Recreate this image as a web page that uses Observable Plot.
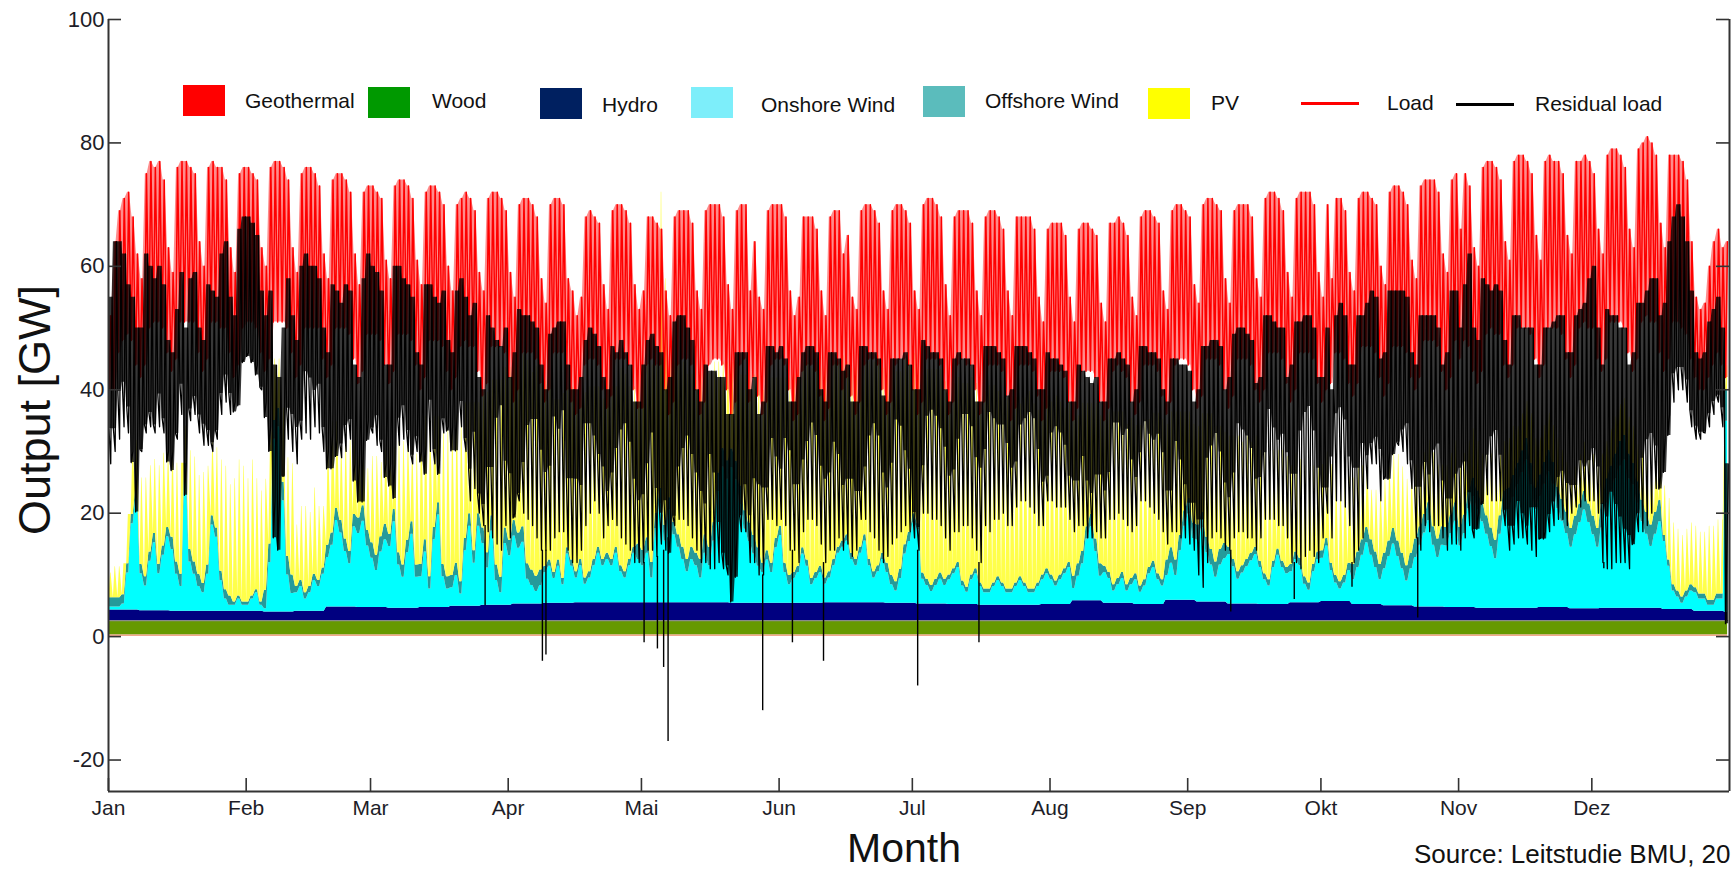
<!DOCTYPE html>
<html>
<head>
<meta charset="utf-8">
<script src="https://cdn.jsdelivr.net/npm/d3@7"></script>
<script src="https://cdn.jsdelivr.net/npm/@observablehq/plot@0.6"></script>
<style>
html, body { margin: 0; padding: 0; background: #fff; overflow: hidden; }
#wrap { position: relative; width: 1735px; height: 872px; font-family: "Liberation Sans", Arial, sans-serif; color: #111; }
#wrap svg { display: block; }
.abs { position: absolute; white-space: nowrap; line-height: 1; }
.sw { position: absolute; width: 42px; height: 31px; }
.ln { position: absolute; width: 58px; height: 3px; }
.lt { position: absolute; font-size: 21px; line-height: 1; white-space: nowrap; color: #111; }
</style>
</head>
<body>
<div id="wrap"></div>
<script>
// ---------- axes ----------
const monthLabels = ["Jan","Feb","Mar","Apr","Mai","Jun","Jul","Aug","Sep","Okt","Nov","Dez"];
const monthStart  = [0,31,59,90,120,151,181,212,243,273,304,334];
const yTicks = [-20,0,20,40,60,80,100];
const xDomain = [0, 365];
const yDomain = [-25.1, 100];

// ---------- series ----------
const sourceNames = ["Geothermal","Wood","Hydro","Onshore Wind","Offshore Wind","PV"];

// weekly values (GW), week 0 = Jan 1..7
const geothermal = [0.3,0.3,0.3,0.3,0.3,0.3,0.3,0.3,0.3,0.3,0.3,0.3,0.3,0.3,0.3,0.3,0.3,0.3,0.3,0.3,0.3,0.3,0.3,0.3,0.3,0.3,0.3,0.3,0.3,0.3,0.3,0.3,0.3,0.3,0.3,0.3,0.3,0.3,0.3,0.3,0.3,0.3,0.3,0.3,0.3,0.3,0.3,0.3,0.3,0.3,0.3,0.3,0.3];
const wood = [2.3,2.3,2.3,2.3,2.3,2.3,2.3,2.3,2.3,2.3,2.3,2.3,2.3,2.3,2.3,2.3,2.3,2.3,2.3,2.3,2.3,2.3,2.3,2.3,2.3,2.3,2.3,2.3,2.3,2.3,2.3,2.3,2.3,2.3,2.3,2.3,2.3,2.3,2.3,2.3,2.3,2.3,2.3,2.3,2.3,2.3,2.3,2.3,2.3,2.3,2.3,2.3,2.3];
const hydro = [1.7,1.6,1.5,1.5,1.5,1.4,1.5,2.2,2.1,2.0,2.1,2.3,2.5,2.7,2.8,2.9,2.9,2.9,2.9,2.9,2.8,2.8,2.8,2.9,2.9,2.8,2.7,2.6,2.5,2.5,2.6,3.2,2.8,2.6,3.3,3.0,2.7,2.6,2.9,3.1,2.6,2.4,2.2,2.1,2.0,2.0,2.1,1.9,2.0,2.0,1.8,1.5,1.3];
const offshore = [1.5,1.5,2,1.5,0.5,3,1,2,2.5,2,2,2,2.5,2.5,1,1,1,2.5,2,3,3,1.5,1,1,1,1.5,1,0.8,0.6,0.6,0.8,2,1,1,2.5,2.5,1.2,1,1.2,1.2,2.5,2.5,3,3,3,3.5,3.5,3,4,3.5,1,0.8,5];

// daily values (GW), one row per week, Sun..Sat
const onshore = [
0.5,0.5,0.5,1,6,14,18,
6,4,8,11,6,9,12,
10,6,4,22,8,6,4,
3,6,14,12,5,2,1,
1,2,1,1,2,3,1,
0.5,8,28,30,18,6,3,
3,4,2,3,5,4,6,
8,10,14,12,9,7,13,
12,14,10,8,6,9,11,
10,14,7,5,9,12,5,
5,9,3,11,15,5,3,
3,5,2,9,13,7,13,
10,6,12,4,2,10,8,
11,9,10,4,3,2,3,
5,6,4,6,3,8,6,
4,6,3,4,6,8,6,
7,6,8,5,4,6,8,
7,6,8,4,12,16,10,
15,11,9,7,5,7,6,
4,8,6,10,18,22,20,
22,20,16,12,10,8,6,
5,7,5,9,11,5,3,
4,5,8,6,3,4,5,
3,4,6,8,9,10,7,
6,8,10,6,4,5,7,
5,3,2,4,8,10,13,
12,4,3,2,3,4,3,
4,5,6,3,2,4,5,
3,2,2,3,4,3,2,
2,3,4,3,2,2,3,
4,5,4,3,4,5,6,
2,4,6,10,12,8,4,
5,4,2,3,4,2,3,
4,2,3,5,6,4,3,
4,6,4,8,12,14,10,
10,12,8,6,4,6,7,
8,6,4,5,6,7,8,
6,4,3,6,8,6,5,
5,7,6,3,2,5,7,
7,9,5,3,2,3,5,
4,6,8,10,8,6,4,
6,8,10,8,6,4,6,
8,10,12,14,10,8,10,
10,12,14,10,12,16,18,
16,14,12,10,8,12,16,
16,18,20,22,24,20,16,
18,20,22,20,16,14,12,
10,12,14,16,14,12,10,
13,17,19,21,23,24,21,
20,17,14,12,10,12,14,
11,7,3,2,1,2,3,
3,2,2,1,1,2,2,
31];

const pv = [
4,5,5,5,8,10,8,
14,16,14,12,16,15,12,
14,16,18,6,16,17,16,
18,16,12,13,18,20,18,
20,22,22,20,22,18,18,
18,16,10,8,12,16,18,
10,12,14,12,14,12,10,
16,18,14,12,16,18,12,
10,8,10,14,16,12,12,
14,10,18,20,16,12,18,
22,20,24,18,14,22,24,
24,24,26,22,18,24,18,
22,26,22,30,32,26,28,
26,28,28,33,32,34,30,
30,30,28,26,30,26,28,
28,26,30,30,28,26,26,
30,28,26,32,32,28,26,
28,30,28,32,24,48,40,
24,26,28,30,30,28,28,
30,28,28,26,18,14,16,
14,16,18,22,24,26,28,
28,30,30,26,24,30,32,
32,32,30,32,34,34,32,
34,34,32,30,30,28,30,
32,30,28,32,34,34,30,
32,34,34,32,30,28,26,
26,32,34,35,34,33,32,
30,30,30,32,33,32,30,
30,32,33,32,30,30,31,
30,30,28,30,32,30,28,
28,28,28,30,28,26,26,
26,24,24,20,18,22,24,
24,26,28,27,26,26,26,
24,26,26,24,24,26,26,
22,22,24,20,16,14,16,
16,16,20,22,22,20,18,
18,20,22,20,20,18,18,
18,20,20,18,16,18,18,
16,16,16,18,18,16,14,
14,14,16,16,16,16,14,
14,14,12,10,8,10,12,
12,12,12,14,14,14,12,
12,10,10,10,12,12,10,
10,10,10,10,10,8,8,
8,8,10,12,12,10,8,
8,8,6,6,6,8,8,
6,6,6,6,8,8,8,
8,8,8,8,8,10,10,
8,6,6,6,6,6,6,
6,6,8,8,8,8,8,
8,10,10,10,10,10,10,
10,10,10,12,12,12,12,
4];

// load: daily peak and night trough (GW)
const loadHi = [
52,64,69,71,72,68,62,
58,75,77,76,77,74,63,
59,76,77,77,76,75,64,
60,76,77,76,76,74,63,
59,75,76,76,75,74,63,
60,76,77,77,76,74,63,
59,75,76,76,75,73,62,
58,74,75,75,74,72,62,
57,72,73,73,72,71,61,
58,73,74,74,73,71,61,
57,72,73,73,72,70,60,
56,70,71,72,71,69,59,
56,71,72,72,71,69,59,
55,70,71,71,70,68,58,
54,70,71,71,70,58,56,
52,55,68,69,68,67,57,
53,69,70,70,69,67,57,
53,56,68,68,67,66,56,
52,68,69,69,69,67,56,
53,69,70,70,70,68,57,
53,69,70,70,56,64,55,
53,69,70,70,70,68,56,
52,55,68,68,68,66,56,
52,68,69,69,62,65,55,
53,69,70,70,69,67,56,
53,69,70,70,69,67,56,
53,70,71,71,70,68,57,
52,68,69,69,69,67,56,
52,68,69,69,68,66,56,
52,68,68,68,68,66,55,
51,66,67,67,67,65,55,
51,66,67,67,66,65,54,
51,67,67,68,67,65,55,
52,68,69,69,68,67,56,
53,69,70,70,69,68,57,
54,70,71,71,70,69,58,
54,69,70,70,70,68,58,
55,71,72,72,71,69,59,
55,71,72,72,72,70,59,
55,70,58,71,71,69,59,
56,71,72,72,71,70,60,
57,72,73,73,72,70,61,
58,73,74,74,74,72,62,
59,74,75,66,75,73,63,
60,76,77,77,76,74,64,
61,77,78,78,77,75,65,
61,77,78,77,77,75,65,
62,77,77,78,77,75,66,
62,78,79,79,78,76,66,
63,79,80,81,80,78,67,
63,78,78,78,77,74,64,
55,53,54,60,64,66,63,
64];

const loadLo = [
40,40,46,48,49,48,44,
42,44,50,51,51,50,46,
43,45,51,51,51,51,46,
43,45,51,51,50,50,46,
42,44,50,51,51,50,46,
43,45,51,51,51,50,46,
42,44,50,50,50,50,45,
42,44,50,50,50,49,45,
41,43,49,49,49,48,44,
41,43,49,49,49,48,44,
40,42,48,48,48,47,43,
40,42,47,48,47,47,43,
39,41,47,47,47,46,42,
38,40,46,46,46,45,41,
38,40,46,46,46,40,38,
36,37,44,45,45,44,40,
37,39,45,45,45,44,40,
37,37,44,45,44,44,40,
36,38,44,45,45,44,40,
36,38,44,45,45,44,40,
36,38,44,45,38,42,39,
36,38,44,45,45,44,40,
35,36,43,44,44,43,39,
35,37,44,44,40,42,39,
36,38,44,45,45,44,40,
36,38,44,45,45,44,40,
36,38,45,45,45,44,40,
36,38,44,45,44,44,40,
36,38,44,44,44,43,39,
35,37,44,44,44,43,39,
35,37,43,43,43,42,38,
35,37,43,43,43,42,38,
35,37,43,44,43,42,38,
36,38,44,44,44,43,39,
36,38,44,45,45,44,40,
37,39,45,45,45,44,40,
37,39,45,45,45,44,40,
38,40,46,46,46,45,41,
38,40,46,46,46,45,41,
38,40,41,46,46,45,41,
39,41,47,47,47,46,42,
39,41,47,47,47,46,42,
40,42,48,48,48,47,43,
40,42,48,45,48,47,43,
41,43,49,50,49,49,44,
42,44,50,50,50,49,45,
42,44,50,50,50,49,45,
42,44,50,51,50,50,45,
43,45,51,51,51,50,46,
43,45,51,52,51,51,46,
43,45,51,51,50,49,45,
42,40,40,42,44,46,44,
42];

// residual load: daily high (evening) and daily low (GW)
const resHi = [
55,64,64,62,57,55,50,
50,62,60,58,60,57,48,
46,53,59,50,58,59,50,
48,57,56,55,62,64,55,
52,66,68,68,67,65,56,
52,56,44,42,50,58,52,
48,60,62,60,60,58,50,
46,57,56,54,57,56,44,
42,58,62,60,59,56,44,
44,60,60,58,57,55,46,
44,57,57,55,54,56,48,
46,56,58,55,52,54,42,
40,52,50,48,47,50,42,
46,53,52,52,51,50,44,
40,49,50,51,51,44,40,
40,42,48,50,49,47,42,
40,47,46,48,46,44,38,
38,44,48,49,47,46,40,
42,51,52,52,50,48,40,
38,44,43,43,42,42,36,
36,46,46,46,40,42,36,
38,47,47,46,47,45,38,
38,42,46,47,47,46,40,
38,46,46,45,43,44,38,
38,47,47,46,46,45,39,
38,45,45,45,46,44,40,
40,48,47,46,46,45,40,
38,45,46,45,45,44,38,
38,47,47,47,46,45,39,
40,47,47,47,46,45,40,
40,46,45,45,44,43,38,
38,44,43,42,41,42,38,
38,45,45,46,45,44,38,
40,47,47,46,46,45,40,
38,45,45,44,44,43,38,
40,47,47,48,48,47,40,
42,49,50,50,49,48,41,
42,52,52,51,50,50,42,
44,51,51,52,52,50,42,
42,50,40,52,54,52,44,
44,52,52,54,56,55,45,
46,56,56,56,56,55,46,
44,52,52,52,52,50,44,
46,56,56,50,57,62,50,
48,58,57,56,57,56,48,
44,52,52,50,50,50,44,
44,50,50,51,52,52,46,
46,52,53,54,58,60,50,
44,53,52,52,50,50,44,
46,54,54,56,58,58,52,
54,64,68,70,68,64,56,
46,45,46,51,53,55,50,
28];

const resLo = [
28,30,32,34,33,30,28,
30,33,34,33,34,33,30,
30,32,36,28,35,36,33,
31,31,30,32,36,38,36,
38,44,45,46,45,44,40,
38,34,22,22,26,32,30,
28,32,33,32,34,33,30,
30,33,32,29,30,32,28,
28,33,35,33,31,30,28,
28,28,31,32,30,28,30,
30,31,30,28,28,33,34,
34,36,34,30,22,24,20,
18,17,16,15,14,18,16,
20,22,20,19,18,16,14,
14,14,16,17,17,14,12,
12,14,18,20,22,20,16,
18,19,18,16,15,14,12,
12,12,14,14,13,15,14,
16,18,19,19,18,16,14,
12,12,11,11,12,11,10,
14,16,17,17,12,12,10,
10,19,19,18,19,18,14,
14,12,17,19,19,18,15,
12,14,14,16,14,15,13,
14,19,19,17,16,14,12,
13,15,16,17,18,17,16,
14,20,20,19,19,18,16,
14,17,17,18,18,16,14,
12,18,17,19,19,20,18,
18,21,22,22,21,20,18,
18,22,22,21,21,21,19,
17,18,18,16,16,17,16,
16,19,19,20,19,18,17,
18,22,22,21,20,19,17,
15,17,17,16,16,15,14,
10,8,12,16,17,16,14,
14,16,17,17,16,16,14,
16,19,19,19,18,18,16,
12,12,11,13,14,13,12,
16,20,16,22,22,21,18,
12,14,16,24,28,28,22,
26,30,31,31,30,28,24,
16,14,18,17,18,18,16,
14,15,15,14,16,18,16,
20,22,23,22,22,22,18,
14,15,16,16,15,14,13,
16,17,17,18,19,19,18,
20,21,21,22,22,22,20,
12,11,11,12,12,12,11,
16,17,17,18,20,24,26,
32,36,38,40,40,38,34,
32,32,33,34,36,38,34,
18];

// single-hour dips of the residual load (day of year, GW)
const dipDay   = [84.8, 97.7, 98.5, 120.6, 123.6, 125.0, 126.0, 147.3, 154.0, 161.0, 182.2, 196.0, 252.7, 267.0, 280.0, 294.8, 336.7];
const dipValue = [5, -4, -3, -1, -2, -5, -17, -12, -1, -4, -8, -1, 4, 6, 8, 3, 11];

// ---------- checks ----------
for (const [name, arr] of Object.entries({onshore, pv, loadHi, loadLo, resHi, resLo})) {
  if (arr.length !== 365) throw new Error(name + " has " + arr.length + " values");
}

// ---------- tables ----------
const areaColors = ["#f2a88c", "#669900", "#000080", "#00ffff", "#259a9a", "#ffff4a"];
const stackRows = [], woodTop = [], loadLine = [], loadBand = [], resLine = [], resBand = [];
for (let d = 0; d < 365; d++) {
  const w = Math.floor(d / 7);
  // night (no sun), midday PV peak
  [[d + 0.1, 0], [d + 0.47, pv[d]], [d + 0.57, pv[d]]].forEach(([t, p]) => {
    const vals = [geothermal[w], wood[w], hydro[w], onshore[d], offshore[w], p];
    vals.forEach((v, k) => stackRows.push({t, source: sourceNames[k], value: v}));
    woodTop.push({t, v: geothermal[w] + wood[w]});
  });
  loadLine.push({t: d + 0.1, v: loadLo[d]}, {t: d + 0.55, v: loadHi[d]});
  loadBand.push({t: d + 0.3, lo: loadLo[d], hi: loadHi[d]}, {t: d + 0.7, lo: loadLo[d], hi: loadHi[d]});
  // residual at night = night load minus night supply (no PV)
  const resNight = loadLo[d] - (geothermal[w] + wood[w] + hydro[w] + onshore[d] + offshore[w]);
  resLine.push({t: d + 0.1, v: resNight}, {t: d + 0.5, v: resLo[d]}, {t: d + 0.82, v: resHi[d]});
  resBand.push({t: d + 0.1, lo: resNight, hi: resHi[d]}, {t: d + 0.82, lo: resNight, hi: resHi[d]});
}
const dips = dipDay.map((t, i) => ({t, v: dipValue[i], top: resLo[Math.floor(t)]}));

const axisColor = "#333";
const chart = Plot.plot({
  width: 1735, height: 872,
  marginLeft: 108, marginRight: 6, marginTop: 19, marginBottom: 81,
  style: {fontFamily: "'Liberation Sans', Arial, sans-serif", background: "#fff"},
  x: {domain: xDomain, axis: null},
  y: {domain: yDomain, axis: null},
  color: {type: "ordinal", domain: sourceNames, range: areaColors},
  marks: [
    Plot.areaY(stackRows, {x: "t", y: "value", z: "source", fill: "source"}),
    Plot.lineY(woodTop, {x: "t", y: "v", stroke: "#8a8a8a", strokeWidth: 1.2}),
    Plot.area(loadBand, {x1: "t", y1: "lo", y2: "hi", fill: "#ff0000", fillOpacity: 0.45}),
    Plot.lineY(loadLine, {x: "t", y: "v", stroke: "#ff0000", strokeWidth: 1.5, strokeLinejoin: "round"}),
    Plot.area(resBand, {x1: "t", y1: "lo", y2: "hi", fill: "#000", fillOpacity: 0.78}),
    Plot.lineY(resLine, {x: "t", y: "v", stroke: "#000", strokeWidth: 1.3, strokeLinejoin: "round"}),
    Plot.ruleX(dips, {x: "t", y1: "v", y2: "top", stroke: "#000", strokeWidth: 1.4}),
    // frame: left, right, bottom
    Plot.ruleX([xDomain[0], xDomain[1]], {stroke: axisColor, strokeWidth: 2}),
    Plot.ruleY([yDomain[0]], {stroke: axisColor, strokeWidth: 2}),
    // inward ticks
    Plot.ruleY(yTicks, {x1: xDomain[0], x2: xDomain[0], insetRight: -13, stroke: axisColor, strokeWidth: 1.6}),
    Plot.ruleY(yTicks, {x1: xDomain[1], x2: xDomain[1], insetLeft: -13, stroke: axisColor, strokeWidth: 1.6}),
    Plot.ruleX(monthStart, {y1: yDomain[0], y2: yDomain[0], insetTop: -13, stroke: axisColor, strokeWidth: 1.6}),
    Plot.axisY({ticks: yTicks, tickSize: 0, tickPadding: 4, fontSize: 22, color: "#1d1d28", tickFormat: d => String(d), label: null}),
    Plot.axisX({ticks: monthStart, tickSize: 0, tickPadding: 9, fontSize: 21, color: "#1d1d28", tickFormat: d => monthLabels[monthStart.indexOf(d)], label: null})
  ]
});
const wrap = document.getElementById("wrap");
wrap.appendChild(chart);

// ---------- legend & titles (HTML overlay) ----------
const legendItems = [
  {name: "Geothermal",    kind: "box",  color: "#ff0000", sx: 183,  sy: 85,  tx: 245,  ty: 101},
  {name: "Wood",          kind: "box",  color: "#009900", sx: 368,  sy: 87,  tx: 432,  ty: 101},
  {name: "Hydro",         kind: "box",  color: "#002060", sx: 540,  sy: 88,  tx: 602,  ty: 105},
  {name: "Onshore Wind",  kind: "box",  color: "#7deefa", sx: 691,  sy: 87,  tx: 761,  ty: 105},
  {name: "Offshore Wind", kind: "box",  color: "#5bbcbc", sx: 923,  sy: 86,  tx: 985,  ty: 101},
  {name: "PV",            kind: "box",  color: "#ffff00", sx: 1148, sy: 88,  tx: 1211, ty: 103},
  {name: "Load",          kind: "line", color: "#ff0000", sx: 1301, sy: 102, tx: 1387, ty: 103},
  {name: "Residual load", kind: "line", color: "#000000", sx: 1456, sy: 103, tx: 1535, ty: 104}
];
for (const it of legendItems) {
  const m = document.createElement("div");
  m.className = it.kind === "box" ? "sw" : "ln";
  m.style.left = it.sx + "px"; m.style.top = it.sy + "px"; m.style.background = it.color;
  wrap.appendChild(m);
  const t = document.createElement("div");
  t.className = "lt"; t.textContent = it.name;
  t.style.left = it.tx + "px"; t.style.top = (it.ty - 11) + "px";
  wrap.appendChild(t);
}
function addText(txt, css) {
  const el = document.createElement("div");
  el.className = "abs"; el.textContent = txt;
  Object.assign(el.style, css);
  wrap.appendChild(el);
}
addText("Output [GW]", {left: "34px", top: "410px", fontSize: "45px", transform: "translate(-50%, -50%) rotate(-90deg)"});
addText("Month", {left: "904px", top: "828px", fontSize: "41px", lineHeight: "1", transform: "translateX(-50%)"});
addText("Source: Leitstudie BMU, 20", {left: "1414px", top: "841px", fontSize: "26px"});
</script>
</body>
</html>
